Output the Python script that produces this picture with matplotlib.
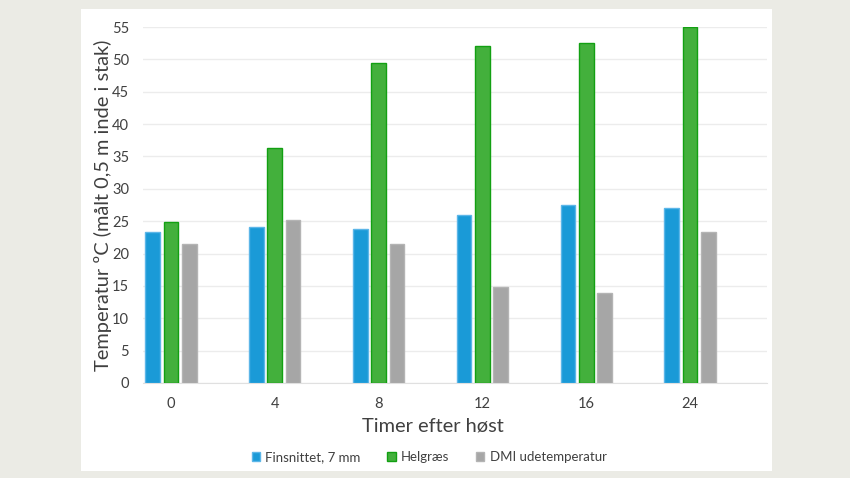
import matplotlib
matplotlib.use("Agg")
import matplotlib.pyplot as plt
import numpy as np
from matplotlib.patches import Rectangle

categories = ["0", "4", "8", "12", "16", "24"]
finsnittet = [23.4, 24.05, 23.8, 25.95, 27.45, 27.0]
helgraes = [24.8, 36.35, 49.4, 52.0, 52.6, 55.0]
dmi = [21.4, 25.2, 21.5, 14.9, 13.95, 23.4]
series_names = ["Finsnittet, 7 mm", "Helgræs", "DMI udetemperatur"]
yticks = [0, 5, 10, 15, 20, 25, 30, 35, 40, 45, 50, 55]

plt.rcParams['font.family'] = ['Lato', 'DejaVu Sans']
txt = "#404040"

W, H = 850, 478
fig = plt.figure(figsize=(8.5, 4.78), dpi=100)
fig.patch.set_facecolor("#ebebe5")
fig.patches.append(Rectangle((81 / W, 1 - 471 / H), (772 - 81) / W, (471 - 9) / H,
                             transform=fig.transFigure, facecolor="white",
                             edgecolor="none", zorder=-10))

ax = fig.add_axes([143 / W, 1 - 383 / H, (767 - 143) / W, 356 / H])
ax.set_facecolor("none")

x = np.arange(len(categories))
bw = 0.141
pitch = 0.176
styles = [("#1a9ad7", "#5cb6e8"), ("#43b03c", "#12a012"), ("#a6a6a6", "#b4b4b4")]
for i, (vals, name, (fc, ec)) in enumerate(zip([finsnittet, helgraes, dmi], series_names, styles)):
    ax.bar(x + (i - 1) * pitch, vals, width=bw, color=fc, edgecolor=ec,
           linewidth=1.0, label=name, zorder=3)

ax.set_xlim(-0.27, len(categories) - 1 + 0.742)
ax.set_ylim(0, 55)
ax.set_yticks(yticks)
ax.set_xticks(x)
ax.set_xticklabels(categories)
ax.yaxis.grid(True, color="#ececec", linewidth=1.0, zorder=0)
ax.set_axisbelow(True)
for s in ["top", "right", "left"]:
    ax.spines[s].set_visible(False)
ax.spines["bottom"].set_color("#e0e0e0")
ax.tick_params(axis="both", length=0, labelsize=10.5, labelcolor=txt)
ax.tick_params(axis="y", pad=10)
ax.tick_params(axis="x", pad=10)

ax.set_xlabel("Timer efter høst", fontsize=14.4, color=txt, labelpad=5)
ax.xaxis.label.set_x((433 - 143) / 624)
ax.set_ylabel("Temperatur ºC (målt 0,5 m inde i stak)", fontsize=14.4, color=txt, labelpad=0)

leg = ax.legend(loc="center", bbox_to_anchor=((429 - 143) / 624, (383 - 457) / 356),
                ncol=3, frameon=False, fontsize=9.5, handlelength=0.65,
                handleheight=0.65, handletextpad=0.4, columnspacing=2.0,
                labelcolor=txt)

fig.savefig("out.png", dpi=100, facecolor=fig.get_facecolor())
